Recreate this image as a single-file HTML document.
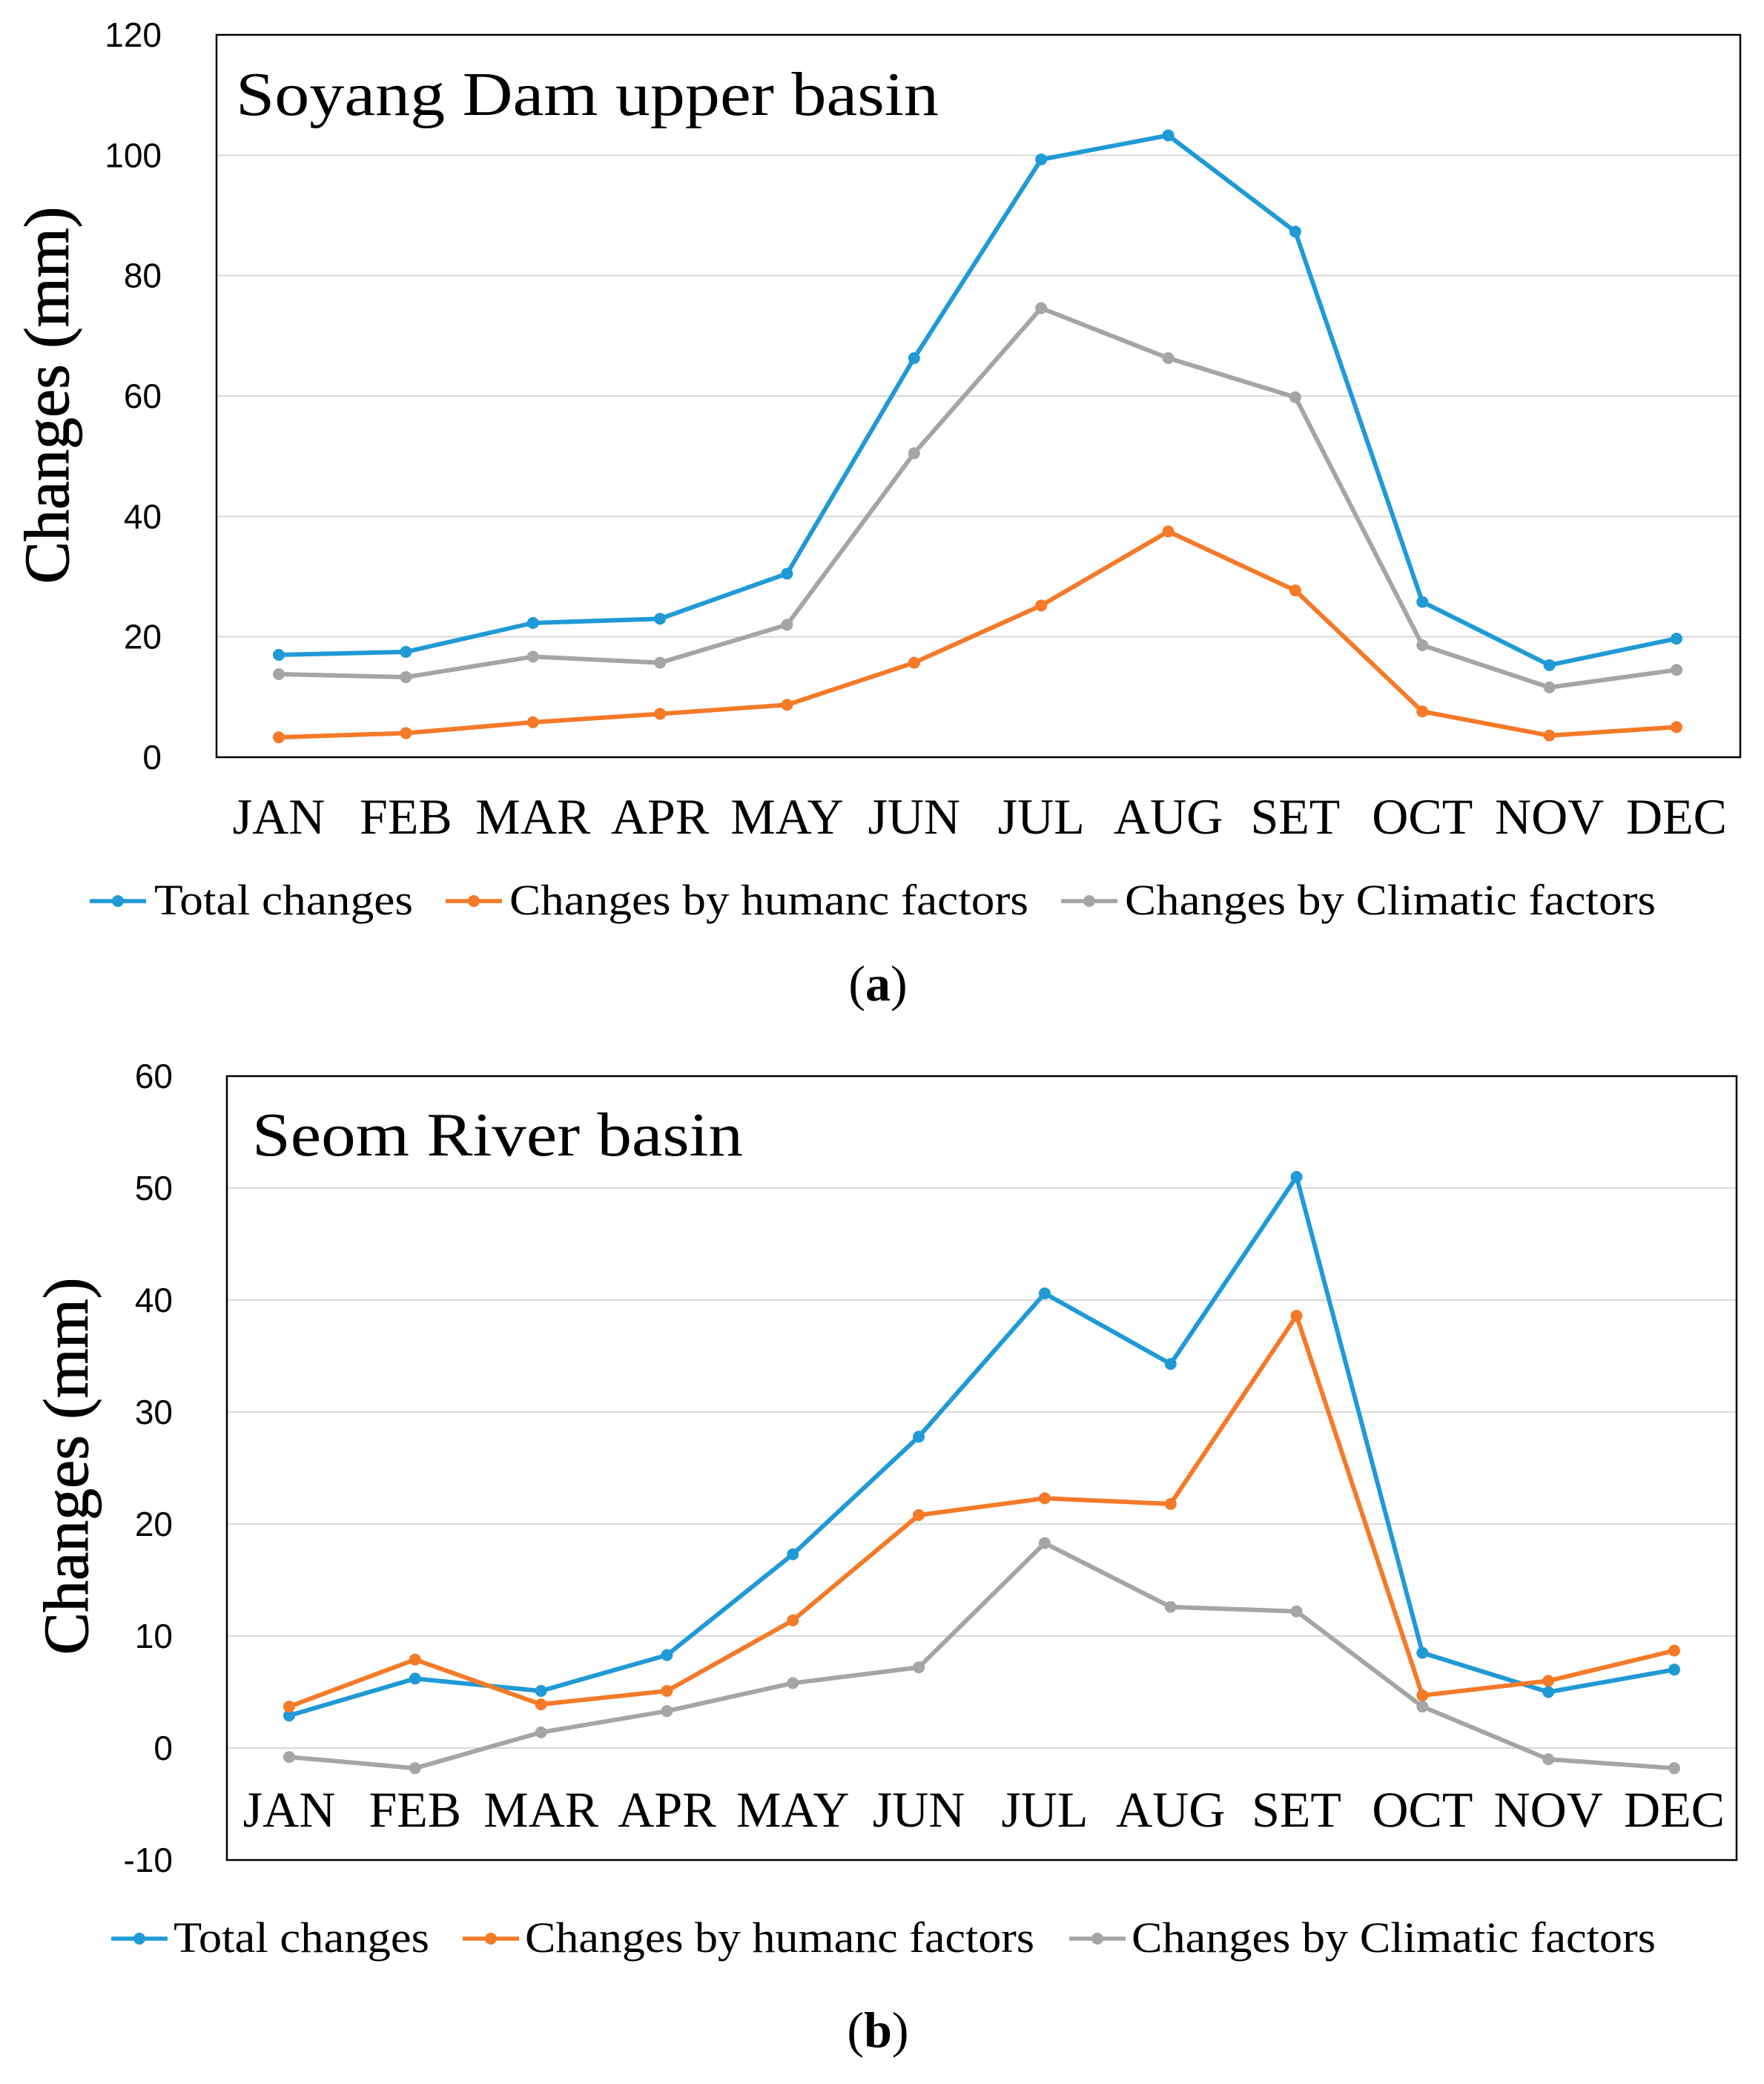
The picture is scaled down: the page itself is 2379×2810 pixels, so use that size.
<!DOCTYPE html>
<html><head><meta charset="utf-8"><style>
html,body{margin:0;padding:0;background:#fff;}
svg{display:block;}
</style></head><body>
<svg id="chart" width="2379" height="2810" viewBox="0 0 2379 2810" xmlns="http://www.w3.org/2000/svg"></svg>
<script>
const months = ["JAN","FEB","MAR","APR","MAY","JUN","JUL","AUG","SET","OCT","NOV","DEC"];
const aTotal = [17,17.5,22.3,23,30.5,66.3,99.3,103.3,87.3,25.8,15.3,19.7];
const aHuman = [3.3,4,5.8,7.2,8.7,15.7,25.2,37.5,27.7,7.6,3.6,5];
const aClimate = [13.8,13.3,16.7,15.7,22,50.5,74.6,66.3,59.8,18.6,11.6,14.5];
const aTicks = [0,20,40,60,80,100,120];
const bTotal = [2.9,6.2,5.1,8.3,17.3,27.8,40.6,34.3,51,8.5,5.0,7.0];
const bHuman = [3.7,7.9,3.9,5.1,11.4,20.8,22.3,21.8,38.6,4.7,6,8.7];
const bClimate = [-0.8,-1.8,1.4,3.3,5.8,7.2,18.3,12.6,12.2,3.7,-1,-1.8];
const bTicks = [-10,0,10,20,30,40,50,60];
const seriesNames = ["Total changes","Changes by humanc factors","Changes by Climatic factors"];

const NS="http://www.w3.org/2000/svg";
const svg=document.getElementById('chart');
const colors=["#1f9ad6","#f47a28","#a5a5a5"];
function mk(tag,attrs,parent){const e=document.createElementNS(NS,tag);for(const k in attrs)e.setAttribute(k,attrs[k]);(parent||svg).appendChild(e);return e;}

function panel(p){
  const g=mk('g',{});
  
  
  const y=v=>p.y0-(v-p.ymin)/(p.ymax-p.ymin)*(p.y0-p.top);
  const x=i=>p.x0+i*(p.x1-p.x0)/11;
  p.ticks.forEach(t=>{
    if(t!==p.ymin&&t!==p.ymax){const l=mk('line',{x1:p.left,x2:p.right,y1:y(t),y2:y(t),stroke:'#d9d9d9','stroke-width':2},g);
    }
    const tx=mk('text',{x:p.tickX,y:y(t)+16,'text-anchor':'end','font-family':'Liberation Sans, sans-serif','font-size':46,fill:'#000'},g);
    tx.textContent=t;
    
  });
  const box=mk('rect',{x:p.left,y:p.top,width:p.right-p.left,height:p.bottom-p.top,fill:'none',stroke:'#000','stroke-width':2.5},g);
  
  const ti=mk('text',{x:p.titleX,y:p.titleY,'font-family':'Liberation Serif, serif','font-size':84,fill:'#000',textLength:p.titleLen,lengthAdjust:'spacingAndGlyphs'},g);
  ti.textContent=p.title;
  
  months.forEach((m,i)=>{
    const t=mk('text',{x:x(i),y:p.monthY,'text-anchor':'middle','font-family':'Liberation Serif, serif','font-size':68,fill:'#000'},g);
    t.textContent=m;
    
  });
  const yt=mk('text',{x:0,y:0,transform:`translate(${p.ytX},${p.ytY}) rotate(-90)`,'text-anchor':'middle','font-family':'Liberation Serif, serif','font-size':86,fill:'#000',stroke:'#000','stroke-width':1},g);
  yt.textContent='Changes (mm)';
  
  p.series.forEach((s,si)=>{
    const pl=mk('polyline',{points:s.map((v,i)=>x(i)+','+y(v)).join(' '),fill:'none',stroke:colors[si],'stroke-width':6,'stroke-linejoin':'round'},g);
    
    s.forEach((v,i)=>{const c=mk('circle',{cx:x(i),cy:y(v),r:8,fill:colors[si]},g);
      });
  });
  p.legend.forEach((L,i)=>{
    const lg=mk('g',{},g);
    
    mk('line',{x1:L[0],x2:L[0]+76,y1:p.legY,y2:p.legY,stroke:colors[i],'stroke-width':5.5},lg);
    mk('circle',{cx:L[0]+38,cy:p.legY,r:8,fill:colors[i]},lg);
    const t=mk('text',{x:L[1],y:p.legY+18,'font-family':'Liberation Serif, serif','font-size':58,fill:'#000',textLength:L[2],lengthAdjust:'spacingAndGlyphs'},lg);
    t.textContent=seriesNames[i];
  });
  const lab=mk('text',{x:p.labX,y:p.labY,'text-anchor':'middle','font-family':'Liberation Serif, serif','font-size':68,fill:'#000'},g);
  lab.innerHTML='(<tspan font-weight="bold">'+p.id+'</tspan>)';
  
}
panel({id:'a',left:292,top:47,right:2347,bottom:1021,ymin:0,ymax:120,y0:1021,ticks:aTicks,
  x0:376,x1:2261,tickX:218,title:'Soyang Dam upper basin',titleLen:948,titleX:318,titleY:155,monthY:1124,ytX:92,ytY:533,
  series:[aTotal,aHuman,aClimate],legY:1215,legend:[[121,208,349],[601,687,700],[1431,1517,716]],labX:1184,labY:1349});
panel({id:'b',left:306,top:1451,right:2342,bottom:2508,ymin:-10,ymax:60,y0:2508,ticks:bTicks,
  x0:390,x1:2258,tickX:233,title:'Seom River basin',titleLen:662,titleX:340,titleY:1558,monthY:2463,ytX:118,ytY:1977,
  series:[bTotal,bHuman,bClimate],legY:2614,legend:[[150,234,345],[624,708,687],[1442,1526,707]],labX:1184,labY:2760});
</script>
</body></html>
